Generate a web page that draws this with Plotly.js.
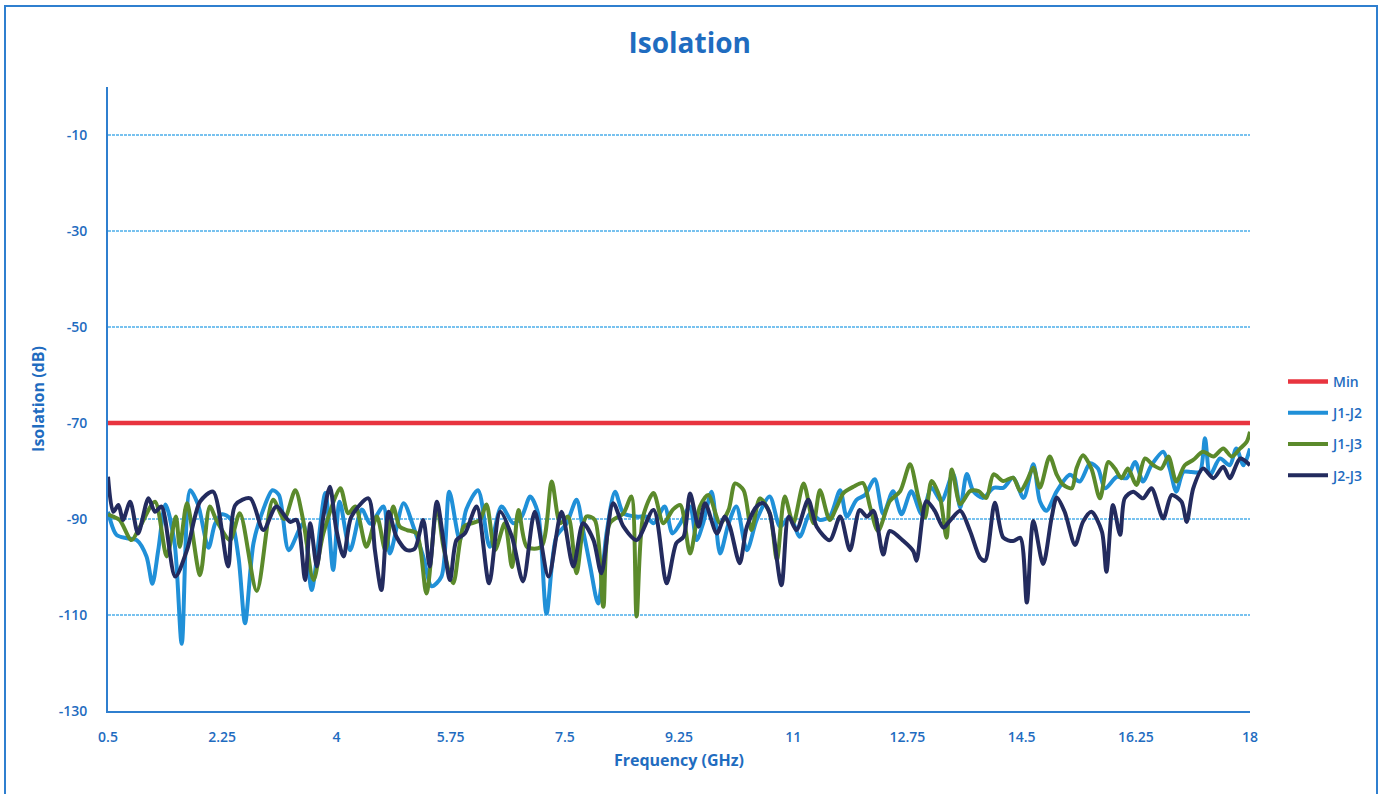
<!DOCTYPE html>
<html>
<head>
<meta charset="utf-8">
<script src="https://cdn.plot.ly/plotly-3.0.1.min.js"></script>
<style>
html,body{margin:0;padding:0;background:#fff;width:1385px;height:794px;overflow:hidden;}
#frame{position:absolute;left:4px;top:5px;width:1374px;height:800px;border:2px solid #2f7fcf;box-sizing:border-box;}
#chart{position:absolute;left:0;top:0;width:1385px;height:794px;}
</style>
</head>
<body>
<div id="frame"></div>
<div id="chart"></div>
<script>
// ---- data ----
const minFreq = [0.5, 18];
const minVals = [-70, -70];

const j12Freq = [0.5,0.63,0.79,0.94,1.09,1.18,1.27,1.38,1.52,1.63,1.76,1.88,2.04,2.14,2.25,2.38,2.5,2.6,2.73,2.88,3.02,3.12,3.27,3.49,3.62,3.83,3.95,4.05,4.21,4.39,4.52,4.72,4.82,5.03,5.18,5.33,5.46,5.61,5.73,5.89,5.99,6.17,6.35,6.53,6.71,6.84,6.97,7.09,7.22,7.37,7.53,7.68,7.78,7.89,8.01,8.14,8.27,8.4,8.6,8.75,8.86,9.03,9.15,9.27,9.42,9.52,9.62,9.75,9.88,10.01,10.13,10.29,10.44,10.64,10.8,10.95,11.1,11.26,11.41,11.56,11.72,11.82,11.97,12.1,12.25,12.38,12.53,12.66,12.81,12.97,13.12,13.27,13.45,13.56,13.66,13.76,13.91,14.07,14.22,14.37,14.53,14.68,14.78,14.88,15.04,15.24,15.39,15.55,15.67,15.78,15.96,16.11,16.24,16.36,16.49,16.67,16.77,16.87,16.98,17.1,17.23,17.31,17.39,17.54,17.69,17.79,17.9,18.0];
const j12Vals = [-88.5,-93.3,-94,-94.4,-97.8,-103.5,-96.5,-87,-95,-116,-84,-87,-96,-91,-89,-90,-98,-111.7,-95,-88,-84,-85,-96.5,-91,-104.8,-84.6,-100.6,-86.4,-96.5,-88,-91,-87.4,-97.2,-86.7,-91.6,-97.8,-104,-102,-84.3,-94.4,-88,-84,-95.8,-87.4,-90.9,-89.5,-85.3,-88.8,-109.7,-93.7,-90.9,-86,-92.3,-99.9,-107.6,-93,-84.3,-88.8,-89.5,-89.5,-90.9,-87.4,-93,-90.9,-87.4,-94.4,-90.9,-84.3,-97.2,-90.9,-87.4,-96.5,-90.2,-85.3,-91.6,-89.5,-93.7,-88.8,-90.2,-89.5,-84,-89.5,-86,-85,-81.7,-89,-84.2,-89,-84.2,-89,-83.5,-86.3,-80.6,-87.6,-80.6,-84.2,-85.6,-83.5,-83.5,-81.4,-85.6,-78.6,-86.3,-88.3,-84.2,-80.8,-82.2,-78.4,-79.5,-83.6,-81.2,-81.5,-78.1,-82.2,-78.8,-76,-79.5,-84.3,-80.2,-80.2,-80.2,-73.2,-80.8,-77.4,-78.8,-75.3,-78.8,-75.3];

const j13Freq = [0.5,0.58,0.68,0.86,0.99,1.22,1.4,1.54,1.6,1.71,1.91,2.06,2.16,2.37,2.52,2.78,3.03,3.2,3.37,3.49,3.65,3.8,4.06,4.18,4.29,4.46,4.62,4.75,4.87,4.97,5.08,5.23,5.38,5.54,5.64,5.79,5.95,6.07,6.2,6.3,6.43,6.58,6.69,6.79,6.92,7.14,7.3,7.43,7.55,7.68,7.83,7.96,8.09,8.19,8.4,8.52,8.6,8.7,8.86,9.01,9.16,9.27,9.42,9.57,9.7,9.88,10.01,10.11,10.24,10.36,10.49,10.64,10.75,10.87,11.0,11.16,11.31,11.41,11.56,11.67,11.77,11.92,12.07,12.18,12.3,12.48,12.64,12.79,12.92,13.02,13.12,13.25,13.35,13.43,13.56,13.71,13.84,13.96,14.07,14.22,14.37,14.48,14.58,14.68,14.78,14.93,15.04,15.14,15.27,15.34,15.44,15.57,15.7,15.83,15.93,16.03,16.13,16.26,16.39,16.52,16.64,16.75,16.87,17.0,17.13,17.28,17.44,17.59,17.72,17.85,17.95,18.0];
const j13Vals = [-89,-89.5,-90.2,-94.4,-91.6,-86.4,-97.8,-89.5,-95.8,-86.7,-101.7,-87.4,-90.2,-94.4,-88.8,-105,-86,-90,-84,-90.2,-102.7,-93,-83.6,-88.8,-87.4,-95.8,-89.5,-96.5,-87.4,-91.6,-92.3,-93,-105.5,-87.4,-95.8,-103.4,-91.6,-90.9,-90.2,-87,-96.5,-90.9,-100,-88.1,-95.8,-95.8,-82.2,-90.9,-89.5,-101.3,-89.5,-90.2,-108.3,-90.9,-88.8,-85.3,-110.3,-89.5,-84.6,-90.9,-88,-87.1,-97.2,-87.4,-85,-90.9,-88.1,-82.6,-84,-92.3,-85.7,-88.8,-98.5,-85.3,-90.9,-82.6,-90.9,-84,-90.2,-87.4,-84.6,-83.3,-82.5,-87.6,-92.5,-86.3,-84.2,-78.6,-85.6,-89.7,-82.1,-85.6,-93.9,-79.7,-86.9,-84.2,-84.2,-85.6,-80.7,-82.1,-81.4,-84.2,-82.1,-79.3,-83.5,-77,-80.8,-82.9,-83.6,-79.5,-76.7,-79.5,-85.7,-78.1,-79.5,-81.5,-79.5,-82.9,-77.4,-78.8,-79.5,-77,-82.2,-78.8,-77.7,-76,-77,-75.3,-77,-75.3,-73.9,-71.8];

const j23Freq = [0.5,0.58,0.66,0.73,0.84,0.96,1.12,1.22,1.32,1.53,1.71,1.91,2.11,2.34,2.45,2.68,2.88,3.08,3.29,3.39,3.52,3.6,3.7,3.8,3.9,4.0,4.11,4.23,4.49,4.59,4.69,4.8,4.92,5.08,5.2,5.33,5.43,5.54,5.74,5.84,5.97,6.15,6.34,6.51,6.69,6.86,7.04,7.25,7.45,7.63,7.78,7.94,8.06,8.24,8.4,8.6,8.86,9.06,9.21,9.32,9.42,9.55,9.65,9.83,9.95,10.03,10.18,10.29,10.44,10.54,10.64,10.82,10.93,11.05,11.23,11.36,11.56,11.72,11.87,12.02,12.13,12.23,12.38,12.48,12.69,12.84,12.89,13.04,13.17,13.3,13.4,13.56,13.71,13.86,13.94,14.09,14.22,14.37,14.48,14.58,14.68,14.83,14.96,15.04,15.16,15.32,15.44,15.57,15.73,15.8,15.9,16.01,16.08,16.21,16.36,16.49,16.67,16.8,16.95,17.03,17.13,17.28,17.44,17.59,17.69,17.85,18.0];
const j23Vals = [-81.2,-88.5,-87.1,-90.2,-86.4,-93,-85.7,-88.5,-87.4,-102,-96.5,-86.4,-84.3,-99.9,-87.1,-85.7,-92.3,-87.4,-90.6,-90.2,-102.7,-90.9,-99.9,-89.5,-83.3,-92.3,-97.8,-89.5,-85.7,-96.5,-104.8,-88.5,-93.7,-96.5,-96.2,-90.2,-99.9,-86.4,-102.7,-94.4,-93,-87.4,-103.4,-88.5,-93.7,-103,-88.5,-102,-88.5,-99.9,-90.9,-94.4,-101.3,-86.7,-91.6,-94.4,-88.1,-103.4,-95,-93.7,-84.7,-91.6,-86.7,-93,-89.5,-91.6,-99.2,-91.6,-87.4,-86.7,-88.8,-103.8,-89.5,-92.3,-86,-91.6,-94.4,-89.5,-96.5,-88.1,-89.5,-88.3,-97.4,-92.5,-94.6,-96.7,-98.7,-86.3,-88.3,-91.8,-90.4,-88.3,-92.5,-98,-98.7,-86.6,-93.9,-94.6,-93.9,-107.4,-90.4,-99.4,-89.7,-85.5,-88.5,-95.4,-90.6,-88.5,-92.6,-101,-87.1,-93.3,-85.7,-84.3,-85.7,-83.6,-89.9,-85,-86.4,-90.6,-83.6,-79.5,-81.5,-79.1,-81.5,-77.4,-78.8];

const xTicks = [0.5, 2.25, 4, 5.75, 7.5, 9.25, 11, 12.75, 14.5, 16.25, 18];
const xTickLabels = ['0.5','2.25','4','5.75','7.5','9.25','11','12.75','14.5','16.25','18'];
const yTicks = [-130, -110, -90, -70, -50, -30, -10];
const yTickLabels = ['-130','-110','-90','-70','-50','-30','-10'];

// ---- styling ----
const textBlue = '#1f6cc0';
const fontFam = '"Open Sans", "Liberation Sans", sans-serif';

function series(name, x, y, color, width, spline) {
  return {
    type: 'scatter', mode: 'lines', name: name, x: x, y: y,
    legendgroup: name,
    line: {color: color, width: width, shape: spline ? 'spline' : 'linear', smoothing: 0.8},
    hoverinfo: 'skip'
  };
}

const traces = [
  series('Min', minFreq, minVals, '#e8343f', 4.5, false),
  series('J1-J2', j12Freq, j12Vals, '#2090d8', 4, true),
  series('J1-J3', j13Freq, j13Vals, '#5b8a2b', 4, true),
  series('J2-J3', j23Freq, j23Vals, '#232b5e', 4, true)
];

const layout = {
  width: 1385, height: 794,
  margin: {l: 108, r: 135, t: 87, b: 83},
  paper_bgcolor: 'rgba(0,0,0,0)',
  plot_bgcolor: 'rgba(0,0,0,0)',
  font: {family: fontFam, color: textBlue, size: 14, weight: 600},
  title: {text: 'Isolation', x: 0.498, xanchor: 'center', y: 0.945, yanchor: 'middle',
          font: {family: fontFam, size: 28, weight: 700, color: textBlue}},
  xaxis: {
    range: [0.5, 18], tickmode: 'array', tickvals: xTicks, ticktext: xTickLabels,
    showgrid: false, zeroline: false, showline: true, linecolor: '#2f7fcf', linewidth: 2,
    ticks: '', ticklabelstandoff: 12,
    tickfont: {family: fontFam, size: 14, weight: 600, color: textBlue},
    title: {text: 'Frequency (GHz)', standoff: 10, font: {family: fontFam, size: 16, weight: 700, color: textBlue}}
  },
  yaxis: {
    range: [-130, 0], tickmode: 'array', tickvals: yTicks, ticktext: yTickLabels,
    showgrid: true, gridcolor: '#78c2ef', griddash: '3px,1px', gridwidth: 1.2,
    zeroline: false, showline: true, linecolor: '#2f7fcf', linewidth: 2,
    ticks: '', ticklabelstandoff: 16,
    tickfont: {family: fontFam, size: 14, weight: 600, color: textBlue},
    title: {text: 'Isolation (dB)', standoff: 10, font: {family: fontFam, size: 16, weight: 700, color: textBlue}}
  },
  showlegend: true,
  legend: {
    xref: 'container', yref: 'container',
    x: 1283/1385, y: 1 - 366/794, xanchor: 'left', yanchor: 'top',
    bgcolor: 'rgba(0,0,0,0)', borderwidth: 0,
    traceorder: 'grouped', tracegroupgap: 10, itemwidth: 40,
    font: {family: fontFam, size: 14, weight: 600, color: textBlue}
  }
};

Plotly.newPlot('chart', traces, layout, {displayModeBar: false, staticPlot: true});
</script>
</body>
</html>
